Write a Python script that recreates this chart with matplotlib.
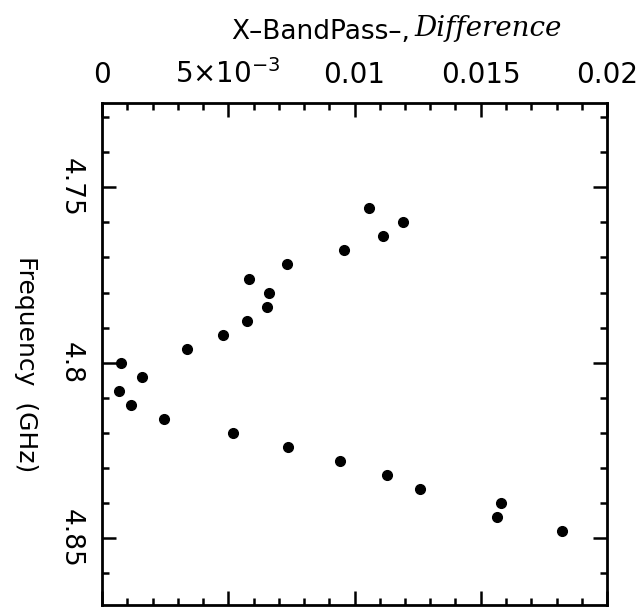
import matplotlib
matplotlib.use("Agg")
import matplotlib.pyplot as plt
from matplotlib.ticker import MultipleLocator

# data (frequency channels top to bottom)
freq_ghz = [4.756, 4.760, 4.764, 4.768, 4.772, 4.776, 4.780, 4.784,
            4.788, 4.792, 4.796, 4.800, 4.804, 4.808, 4.812, 4.816,
            4.820, 4.824, 4.828, 4.832, 4.836, 4.840, 4.844, 4.848]
bp_diff = [0.01059, 0.01193, 0.01112, 0.00960, 0.00734, 0.00583, 0.00663, 0.00652,
           0.00574, 0.00478, 0.00337, 0.00074, 0.00158, 0.00069, 0.00115, 0.00246,
           0.00519, 0.00735, 0.00943, 0.01130, 0.01258, 0.01579, 0.01563, 0.01823]

x_ticks = [0, 0.005, 0.01, 0.015, 0.02]
x_ticklabels = ["0", r"5×10$^{-3}$", "0.01", "0.015", "0.02"]
y_ticks = [4.75, 4.8, 4.85]
y_ticklabels = ["4.75", "4.8", "4.85"]

W, H = 640, 608
fig = plt.figure(figsize=(W / 100, H / 100), dpi=100)
# axes box in pixels: x 102..607, y 103..605 (from top)
ax = fig.add_axes([102 / W, 1 - 605 / H, (607 - 102) / W, (605 - 103) / H])

ax.plot(bp_diff, freq_ghz, "o", color="black", markersize=7, linestyle="none")

ax.set_xlim(0, 0.02)
ax.set_ylim(4.869, 4.726)   # frequency runs downward

ax.set_xticks(x_ticks)
ax.set_xticklabels(x_ticklabels)
ax.xaxis.set_minor_locator(MultipleLocator(0.001))
ax.set_yticks(y_ticks)
ax.set_yticklabels(y_ticklabels)
ax.yaxis.set_minor_locator(MultipleLocator(0.01))

ax.tick_params(which="both", direction="in", top=True, bottom=True,
               left=True, right=True, labeltop=True, labelbottom=False,
               color="black", width=1.8)
ax.tick_params(which="major", length=10)
ax.tick_params(which="minor", length=5)
ax.tick_params(axis="x", labelsize=20, pad=10)
ax.tick_params(axis="y", labelsize=19, pad=13, labelrotation=-90)
for lab in ax.get_yticklabels():
    lab.set_verticalalignment("center")

for s in ax.spines.values():
    s.set_linewidth(2)

# top label: printed part plus hand-written word
fig.text(231 / W, 1 - 32 / H, "X–BandPass–,", fontsize=19, ha="left", va="center")
fig.text(414 / W, 1 - 29 / H, "Difference", fontsize=20, ha="left", va="center",
         family="DejaVu Serif", style="italic")

fig.text(26 / W, 1 - 364 / H, "Frequency  (GHz)", fontsize=18, rotation=-90,
         ha="center", va="center")

fig.savefig("out.png", dpi=100)
